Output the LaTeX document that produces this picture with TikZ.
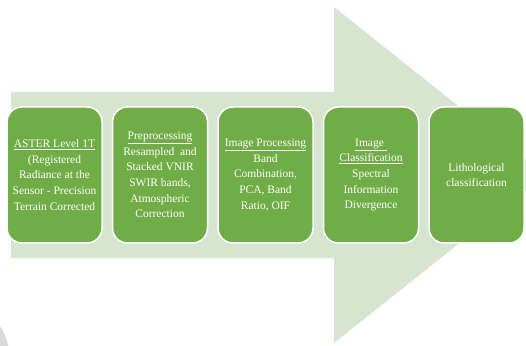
\documentclass[tikz,border=0pt]{standalone}
\usepackage{fontspec}
\setmainfont{Liberation Serif}
\definecolor{stepgreen}{RGB}{112,173,71}
\definecolor{arrowgreen}{RGB}{214,229,208}
\definecolor{cornergray}{RGB}{217,217,217}
\tikzset{
  stagebox/.style={rectangle, rounded corners=15pt, fill=stepgreen, draw=white,
    line width=1.5pt, minimum width=95pt, minimum height=136pt, inner sep=2pt,
    text=white, align=center,
    font=\fontsize{11.5pt}{15.6pt}\selectfont}
}
\begin{document}
\begin{tikzpicture}[x=1pt,y=1pt]
  \useasboundingbox (0,0) rectangle (526,345);
  \fill[white] (0,0) rectangle (526,345);
  \begin{scope}
    \clip (0,0) rectangle (526,345);
    % faint disc in the lower left corner
    \fill[cornergray] (-42,-10) circle (51);
    % broad process arrow behind the stages
    \fill[arrowgreen] (11,253) -- (334,253) -- (334,338) -- (545,170)
      -- (334,2) -- (334,87) -- (11,87) -- cycle;
  \end{scope}
  % stages
  \node[stagebox] (s1) at (54.5,170) {\underline{ASTER Level 1T}\\(Registered\\Radiance at the\\Sensor - Precision\\Terrain Corrected};
  \node[stagebox] (s2) at (160,170) {\underline{Preprocessing}\\Resampled\ \ and\\Stacked VNIR\\SWIR bands,\\Atmospheric\\Correction};
  \node[stagebox] (s3) at (265.5,170) {\underline{Image Processing}\\Band\\Combination,\\PCA, Band\\Ratio, OIF};
  \node[stagebox] (s4) at (371,170) {\underline{Image\ }\\\underline{Classification}\\Spectral\\Information\\Divergence};
  \node[stagebox] (s5) at (476.5,170) {Lithological\\classification};
\end{tikzpicture}
\end{document}
